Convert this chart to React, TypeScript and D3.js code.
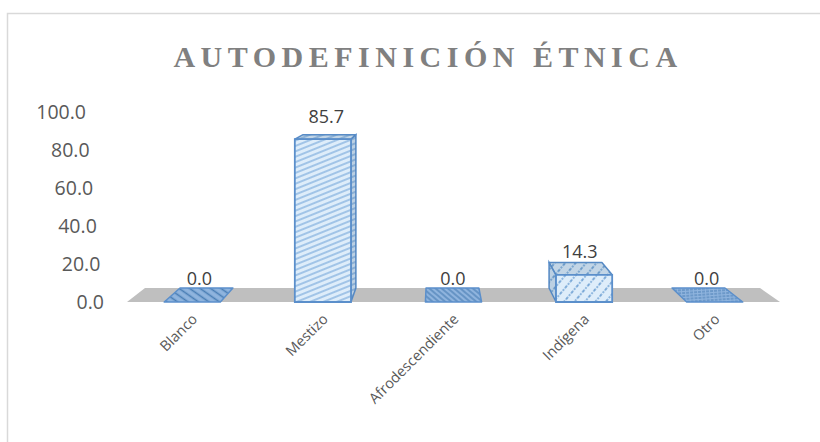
import * as React from "react";
import { scaleBand, scaleLinear } from "d3";

const categories = ["Blanco", "Mestizo", "Afrodescendiente", "Indígena", "Otro"];
const values = [0.0, 85.7, 0.0, 14.3, 0.0];
const yTicks = [0, 20, 40, 60, 80, 100];
const fills = ["darkDown", "wideUp", "narrowDown", "dottedUp", "grid"];

// perspective: vanishing point + scale of the back plane
const VX = 436;
const VY = 62;
const BACK = 0.9418;

const proj = (x: number, y: number, z: number) => {
  const s = 1 - z * (1 - BACK);
  return [VX + (x - VX) * s, VY + (y - VY) * s];
};

const poly = (pts: number[][]) => pts.map((p) => p.join(",")).join(" ");

const Patterns = () => (
  <defs>
    <pattern id="darkDown" patternUnits="userSpaceOnUse" width="6" height="6" patternTransform="rotate(35)">
      <rect width="6" height="6" fill="#8fb4de" />
      <line x1="0" y1="1.5" x2="6" y2="1.5" stroke="#4a7eb5" strokeWidth="1.6" />
    </pattern>
    <pattern id="wideUp" patternUnits="userSpaceOnUse" width="8" height="5" patternTransform="rotate(-22)">
      <rect width="8" height="5" fill="#deedfa" />
      <line x1="0" y1="1" x2="8" y2="1" stroke="#6fa3d8" strokeWidth="1.1" />
    </pattern>
    <pattern id="narrowDown" patternUnits="userSpaceOnUse" width="4" height="4" patternTransform="rotate(40)">
      <rect width="4" height="4" fill="#8fb4de" />
      <line x1="0" y1="1" x2="4" y2="1" stroke="#4a7eb5" strokeWidth="1.2" />
    </pattern>
    <pattern id="dottedUp" patternUnits="userSpaceOnUse" width="8" height="8" patternTransform="rotate(-50)">
      <rect width="8" height="8" fill="#deedfa" />
      <line x1="0" y1="2" x2="8" y2="2" stroke="#5b93cc" strokeWidth="1.6" strokeDasharray="1.6 1.6" />
    </pattern>
    <pattern id="grid" patternUnits="userSpaceOnUse" width="4" height="3" patternTransform="rotate(-4)">
      <rect width="4" height="3" fill="#8fb4de" />
      <line x1="0" y1="1" x2="4" y2="1" stroke="#4a7eb5" strokeWidth="1" strokeDasharray="3 1" />
    </pattern>
  </defs>
);

export default function App() {
  const width = 820;
  const height = 442;
  const x0 = 127;
  const x1 = 780;
  const base = 302;

  const xScale = scaleBand<string>()
    .domain(categories)
    .range([x0, x1])
    .paddingInner(0.57)
    .paddingOuter(0.285);

  const yScale = scaleLinear().domain([0, 100]).range([base, 112]);

  const floor = [proj(x0, base, 0), proj(x1, base, 0), proj(x1, base, 1), proj(x0, base, 1)];

  const bars = categories.map((c, i) => {
    const v = values[i];
    const bx0 = xScale(c) as number;
    const bx1 = bx0 + xScale.bandwidth();
    const top = yScale(v);
    const fill = `url(#${fills[i]})`;
    const stroke = "#5b8fcb";
    const topFace = [proj(bx0, top, 0), proj(bx1, top, 0), proj(bx1, top, 1), proj(bx0, top, 1)];
    const cx = (bx0 + bx1) / 2;
    const sx = cx < VX ? bx1 : bx0;
    const side = [proj(sx, top, 0), proj(sx, top, 1), proj(sx, base, 1), proj(sx, base, 0)];
    const front = [proj(bx0, top, 0), proj(bx1, top, 0), proj(bx1, base, 0), proj(bx0, base, 0)];
    const labelX = (topFace[0][0] + topFace[1][0] + topFace[2][0] + topFace[3][0]) / 4;
    const labelY = topFace[2][1] - 3 - v * 0.1;
    return (
      <g key={c}>
        {v > 0 && (
          <>
            <polygon points={poly(side)} fill={fill} stroke={stroke} strokeWidth={1.5} />
            <polygon points={poly(side)} fill="#1f4e79" opacity={0.18} />
          </>
        )}
        <polygon points={poly(topFace)} fill={fill} stroke={stroke} strokeWidth={1.5} strokeLinejoin="round" />
        {v > 0 && (
          <>
            <polygon points={poly(topFace)} fill="#1f4e79" opacity={0.15} />
            <polygon points={poly(front)} fill={fill} stroke={stroke} strokeWidth={1.8} />
          </>
        )}
        <text x={labelX} y={labelY} textAnchor="middle" fontFamily="'Open Sans', sans-serif" fontSize={18} fill="#404040">
          {v.toFixed(1)}
        </text>
      </g>
    );
  });

  return (
    <svg width={width} height={height} style={{ position: "absolute", left: 0, top: 0, background: "#fff" }}>
      <Patterns />
      <rect x={7.5} y={13.5} width={840} height={480} fill="#fff" stroke="#d9d9d9" strokeWidth={1.5} />
      <text
        x={428}
        y={67}
        textAnchor="middle"
        fontFamily="'Liberation Serif', 'Times New Roman', serif"
        fontWeight="bold"
        fontSize={30}
        letterSpacing={5.5}
        fill="#808080"
      >
        AUTODEFINICIÓN ÉTNICA
      </text>
      {yTicks.map((t) => (
        <text
          key={t}
          x={104 - t * 0.18}
          y={yScale(t) + 7}
          textAnchor="end"
          fontFamily="'Open Sans', sans-serif"
          fontSize={19.5}
          fill="#595959"
        >
          {t.toFixed(1)}
        </text>
      ))}
      <polygon points={poly(floor)} fill="#bfbfbf" />
      {bars}
      {categories.map((c) => {
        const cx = (xScale(c) as number) + xScale.bandwidth() / 2 + 6;
        const cy = 320;
        return (
          <text
            key={c}
            x={cx}
            y={cy}
            transform={`rotate(-45, ${cx}, ${cy})`}
            textAnchor="end"
            fontFamily="'Open Sans', sans-serif"
            fontSize={14.5}
            fill="#595959"
          >
            {c}
          </text>
        );
      })}
    </svg>
  );
}
